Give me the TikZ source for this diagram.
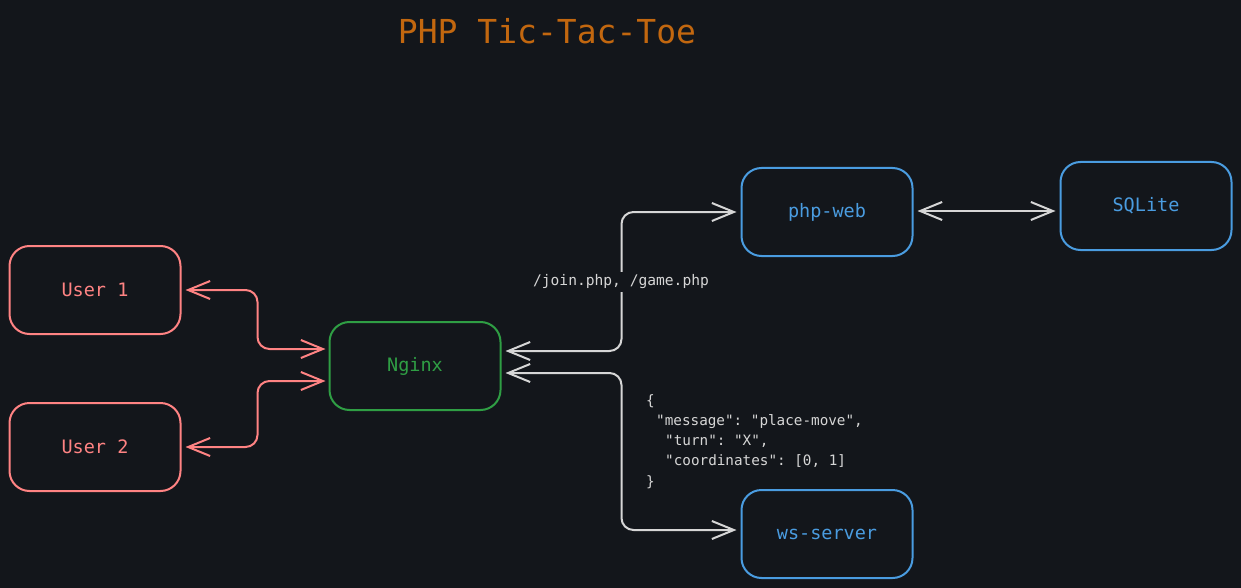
\documentclass[tikz,border=0pt]{standalone}
\usepackage{fontspec}
\setmonofont{DejaVu Sans Mono}
\usetikzlibrary{arrows.meta}
\definecolor{bg}{RGB}{19,22,27}
\definecolor{redc}{RGB}{255,131,131}
\definecolor{greenc}{RGB}{47,158,68}
\definecolor{bluec}{RGB}{74,156,224}
\definecolor{titlec}{RGB}{194,103,15}
\definecolor{greyc}{RGB}{214,214,214}
\tikzset{
  box/.style={draw, line width=2pt, rounded corners=20pt, minimum width=171pt, minimum height=88pt, font=\ttfamily\fontsize{18.5}{22}\selectfont},
  redbox/.style={box, draw=redc, text=redc},
  greenbox/.style={box, draw=greenc, text=greenc},
  bluebox/.style={box, draw=bluec, text=bluec},
  mybarb/.tip={Straight Barb[length=22pt, width=18pt, line width=2pt]},
  conn/.style={line width=2pt, rounded corners=12pt, {mybarb}-{mybarb}},
  redconn/.style={conn, draw=redc},
  greyconn/.style={conn, draw=greyc},
  lbl/.style={text=greyc, font=\ttfamily\fontsize{14.6}{20.3}\selectfont, inner sep=3pt}
}
\begin{document}
\begin{tikzpicture}[x=1pt, y=-1pt]
\fill[bg] (0,0) rectangle (1241,588);
\useasboundingbox (0,0) rectangle (1241,588);
\node[text=titlec, font=\ttfamily\fontsize{33}{36}\selectfont] (title) at (547,31) {PHP Tic-Tac-Toe};
\node[redbox] (u1) at (95,290) {User 1};
\node[redbox] (u2) at (95,447) {User 2};
\node[greenbox] (ng) at (415,366) {Nginx};
\node[bluebox] (pw) at (827,212) {php-web};
\node[bluebox] (sql) at (1146,206) {SQLite};
\node[bluebox] (ws) at (827,534) {ws-server};
\draw[redconn] ([xshift=4pt]u1.east) -- ++(72pt,0) |- ([xshift=-3pt,yshift=17pt]ng.west);
\draw[redconn] ([xshift=4pt]u2.east) -- ++(72pt,0) |- ([xshift=-3pt,yshift=-15pt]ng.west);
\draw[greyconn] ([xshift=4pt,yshift=15pt]ng.east) -- ++(116pt,0) |- ([xshift=-4pt]pw.west);
\draw[greyconn] ([xshift=4pt,yshift=-7pt]ng.east) -- ++(116pt,0) |- ([xshift=-4pt,yshift=4pt]ws.west);
\draw[greyconn] ([xshift=4pt,yshift=1pt]pw.east) -- ([xshift=-4pt,yshift=-5pt]sql.west);
\node[lbl, fill=bg] (routes) at (621,282) {/join.php, /game.php};
\node[lbl, font=\ttfamily\fontsize{14.3}{20.3}\selectfont, anchor=north west, align=left, inner sep=0pt] (msg) at (646,394) {\{\\
\hspace*{10pt}"message": "place-move",\\
\hspace*{19pt}"turn": "X",\\
\hspace*{19pt}"coordinates": [0, 1]\\
\}};
\end{tikzpicture}
\end{document}
